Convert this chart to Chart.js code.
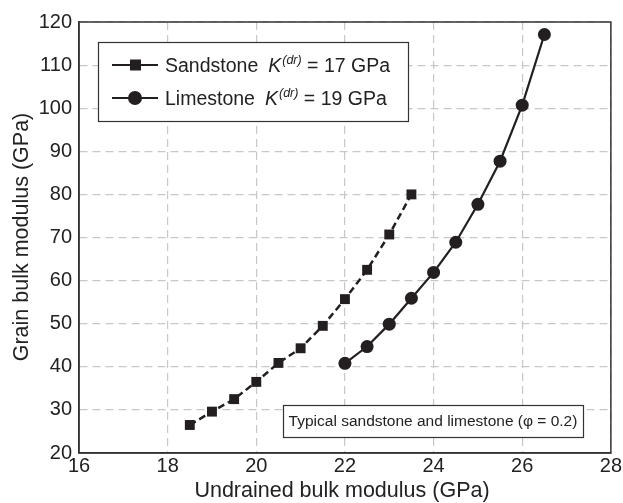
<!DOCTYPE html>
<html>
<head>
<meta charset="utf-8">
<script src="https://cdn.jsdelivr.net/npm/chart.js@4.4.0/dist/chart.umd.min.js"></script>
<style>
  html, body { margin: 0; padding: 0; background: #fff; }
  #wrap { width: 623px; height: 503px; position: relative; }
</style>
</head>
<body>
<div id="wrap"><canvas id="c"></canvas></div>
<script>
// undrained bulk modulus (GPa) vs grain bulk modulus (GPa)
const sandK = [18.5, 19, 19.5, 20, 20.5, 21, 21.5, 22, 22.5, 23, 23.5];
const sandG = [26.5, 29.6, 32.5, 36.5, 40.9, 44.3, 49.5, 55.7, 62.5, 70.7, 80];
const limeK = [22, 22.5, 23, 23.5, 24, 24.5, 25, 25.5, 26, 26.5];
const limeG = [40.8, 44.7, 49.9, 55.9, 61.9, 68.9, 77.7, 87.7, 100.7, 117.1];

const xTicks = [16, 18, 20, 22, 24, 26, 28];
const yTicks = [20, 30, 40, 50, 60, 70, 80, 90, 100, 110, 120];

const seriesNames = ['Sandstone', 'Limestone'];
const seriesDry = ['17', '19'];
const xTitle = 'Undrained bulk modulus (GPa)';
const yTitle = 'Grain bulk modulus (GPa)';
const note = 'Typical sandstone and limestone (\u03c6 = 0.2)';

const ink = '#231f20';
const FONT = '"Liberation Sans", Arial, sans-serif';

const toPts = (xs, ys) => xs.map((x, i) => ({ x: x, y: ys[i] }));

// frame, legend box, note box, axis titles
const decor = {
    id: 'decor',
    afterDatasetsDraw(chart) {
        const ctx = chart.ctx;
        const a = chart.chartArea;
        ctx.save();
        ctx.strokeStyle = '#333';
        ctx.lineWidth = 1.5;
        ctx.strokeRect(a.left, a.top, a.right - a.left, a.bottom - a.top);

        // legend
        ctx.fillStyle = '#fff';
        ctx.fillRect(98, 42, 310, 79);
        ctx.strokeStyle = '#333';
        ctx.lineWidth = 1.2;
        ctx.strokeRect(98.5, 42.5, 310, 79);
        [65, 98].forEach((y, i) => {
            ctx.strokeStyle = ink;
            ctx.lineWidth = 2.2;
            ctx.setLineDash([]);
            ctx.beginPath(); ctx.moveTo(112, y); ctx.lineTo(158, y); ctx.stroke();
            ctx.fillStyle = ink;
            if (i === 0) ctx.fillRect(130, y - 5.5, 11, 11);
            else { ctx.beginPath(); ctx.arc(135, y, 7, 0, Math.PI * 2); ctx.fill(); }
            ctx.fillStyle = '#222';
            ctx.textBaseline = 'alphabetic';
            ctx.textAlign = 'left';
            let x = 165;
            const base = y + 7;
            ctx.font = '19.5px ' + FONT;
            ctx.fillText(seriesNames[i], x, base);
            x += ctx.measureText(seriesNames[i]).width + 10;
            ctx.font = 'italic 19.5px ' + FONT;
            ctx.fillText('K', x, base);
            x += ctx.measureText('K').width + 1;
            ctx.font = 'italic 12.5px ' + FONT;
            ctx.fillText('(dr)', x, base - 8);
            x += ctx.measureText('(dr)').width;
            ctx.font = '19.5px ' + FONT;
            ctx.fillText(' = ' + seriesDry[i] + ' GPa', x, base);
        });

        // note box
        ctx.fillStyle = '#fff';
        ctx.fillRect(283, 405, 300, 32);
        ctx.strokeStyle = '#333';
        ctx.lineWidth = 1.2;
        ctx.strokeRect(283.5, 405.5, 300, 32);
        ctx.fillStyle = '#222';
        ctx.font = '15.5px ' + FONT;
        ctx.textBaseline = 'middle';
        ctx.textAlign = 'center';
        ctx.fillText(note, 433, 422);

        // axis titles
        ctx.font = '21.5px ' + FONT;
        ctx.textBaseline = 'alphabetic';
        ctx.fillText(xTitle, 342, 497);
        ctx.translate(28, 237);
        ctx.rotate(-Math.PI / 2);
        ctx.fillText(yTitle, 0, 0);
        ctx.restore();
    }
};

new Chart(document.getElementById('c'), {
    type: 'scatter',
    data: {
        datasets: [
            {
                label: seriesNames[0],
                data: toPts(sandK, sandG),
                showLine: true,
                borderColor: ink,
                backgroundColor: ink,
                borderWidth: 2.5,
                borderDash: [7, 4],
                pointStyle: 'rect',
                pointRadius: 7,
                pointBorderWidth: 0
            },
            {
                label: seriesNames[1],
                data: toPts(limeK, limeG),
                showLine: true,
                borderColor: ink,
                backgroundColor: ink,
                borderWidth: 2.2,
                pointStyle: 'circle',
                pointRadius: 6.5,
                pointBorderWidth: 0
            }
        ]
    },
    options: {
        responsive: true,
        maintainAspectRatio: false,
        animation: false,
        layout: { padding: { top: 22, right: 12, left: 0, bottom: 0 } },
        plugins: { legend: { display: false }, tooltip: { enabled: false } },
        scales: {
            x: {
                type: 'linear', min: 16, max: 28,
                afterBuildTicks: s => { s.ticks = xTicks.map(v => ({ value: v })); },
                afterFit: s => { s.height = 50; },
                ticks: { color: '#222', font: { family: FONT, size: 20 }, padding: 1 },
                grid: { color: '#c8c8c8', lineWidth: 1.2, drawTicks: false },
                border: { display: true, color: '#333', width: 1.5, dash: [8, 5] }
            },
            y: {
                type: 'linear', min: 20, max: 120,
                afterBuildTicks: s => { s.ticks = yTicks.map(v => ({ value: v })); },
                afterFit: s => { s.width = 79; },
                ticks: { color: '#222', font: { family: FONT, size: 20 }, padding: 7 },
                grid: { color: '#c8c8c8', lineWidth: 1.2, drawTicks: false },
                border: { display: true, color: '#333', width: 1.5, dash: [8, 5] }
            }
        }
    },
    plugins: [decor]
});
</script>
</body>
</html>
